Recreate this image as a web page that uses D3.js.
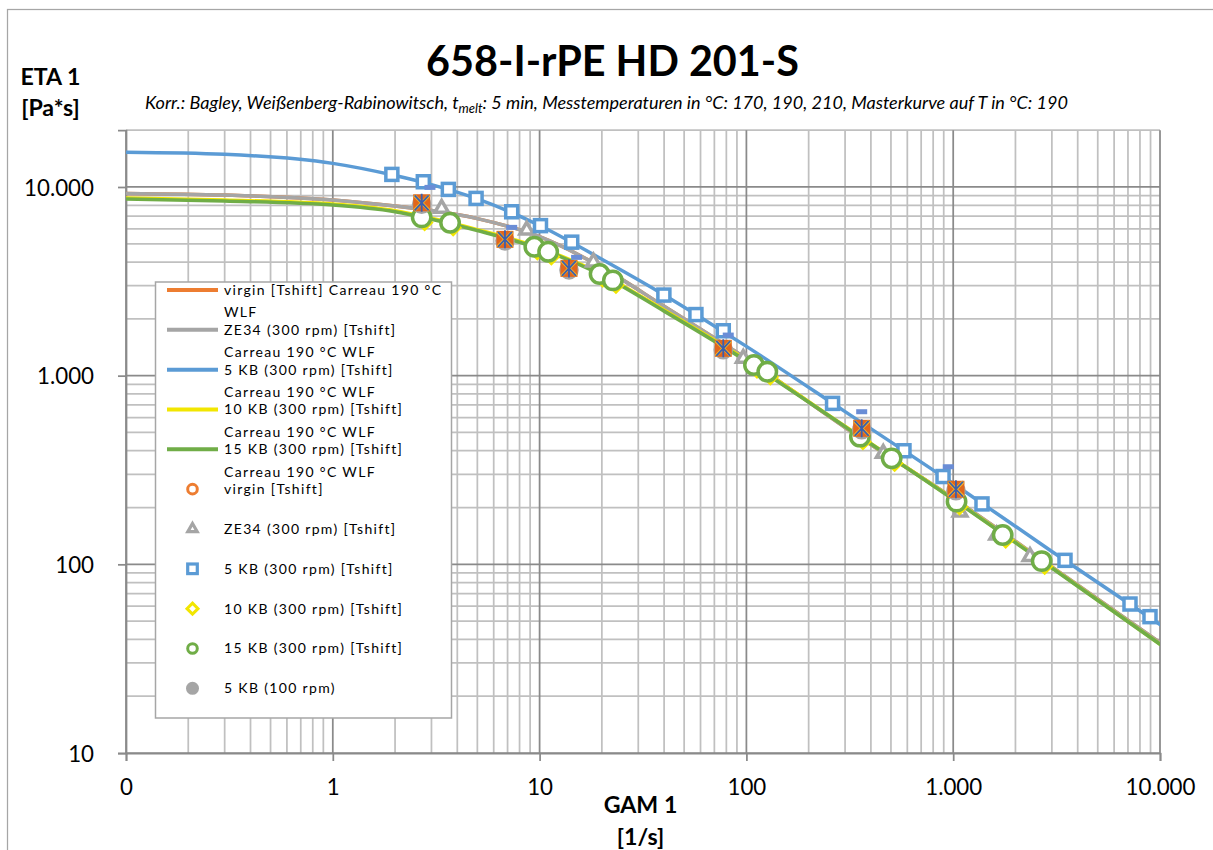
<!DOCTYPE html>
<html>
<head>
<meta charset="utf-8">
<script src="https://cdn.jsdelivr.net/npm/d3@7"></script>
<style>
  body { margin: 0; background: #fff; }
  svg { display: block; font-family: Lato, "Open Sans", sans-serif; }
</style>
</head>
<body>
<svg id="chart" width="1213" height="850"></svg>
<script>
// ---- Carreau/WLF fit curves (shear rate in 1/s, viscosity in Pa*s) ----
const gamFit = [0.1, 0.3, 1, 2, 3, 5, 10, 20, 40, 100, 300, 1000, 3000, 10000];
const etaFitVirgin = [9250, 9057, 8530, 7920, 7500, 6800, 5450, 3750, 2330, 1230, 531, 224, 97, 38.5];
const etaFitZE34   = [9250, 9057, 8530, 7920, 7500, 6800, 5450, 3750, 2330, 1230, 531, 224, 97, 38.5];
const etaFit5KB    = [15260, 14890, 13340, 11500, 10300, 8650, 6250, 4140, 2680, 1430, 645, 268, 117, 48];
const etaFit10KB   = [8730, 8520, 8115, 7480, 6830, 5945, 4760, 3450, 2225, 1210, 539, 222, 96, 37.8];
const etaFit15KB   = [8630, 8420, 8020, 7390, 6750, 5876, 4705, 3410, 2198, 1195, 537, 221, 95.6, 37.7];

// ---- measured points, shifted to 190 °C ----
const gamZE34 = [3.36, 8.66, 18.2, 96.6, 459, 1079, 1623, 2351];
const etaZE34 = [7700, 5909, 4000, 1235, 387, 189, 143, 110];

const gam5KB = [1.93, 2.74, 3.62, 4.93, 7.33, 10.1, 14.3, 39.9, 57.0, 77.3, 261, 578, 893, 1378, 3472, 7160, 8946];
const eta5KB = [11660, 10660, 9710, 8700, 7390, 6240, 5100, 2674, 2108, 1730, 713, 400, 292, 209, 105, 61.6, 52.8];

const gam10KB = [2.78, 3.82, 9.75, 11.4, 20.2, 23.4, 112.5, 130.5, 366, 521, 1073, 1794, 2769];
const eta10KB = [6490, 6080, 4540, 4270, 3250, 3010, 1070, 987, 447, 343, 202, 134.5, 97.8];

const gam15KB = [2.69, 3.69, 9.43, 11.0, 19.5, 22.6, 108.8, 126.2, 354, 504, 1038, 1735, 2678];
const eta15KB = [6902, 6460, 4822, 4535, 3455, 3199, 1138, 1049, 475, 364.5, 215, 143, 104];

// virgin and 100 rpm runs share the same shear rates
const gamVirgin = [2.69, 6.80, 13.87, 77.3, 361, 1031];
const etaVirgin = [8247, 5277, 3703, 1396, 526, 250];
const gam5KB100 = [2.69, 6.80, 13.87, 77.3, 361, 1031];
const eta5KB100 = [8247, 5277, 3703, 1396, 526, 250];
const gam5KB100T = [2.95, 7.33, 15.1, 81.7, 361, 947];
const eta5KB100T = [9952, 6108, 4236, 1641, 644, 329];

// ---- axes ----
const xTicks = [0.1, 1, 10, 100, 1000, 10000];
const yTicks = [10, 100, 1000, 10000];

const titleText = "658-I-rPE HD 201-S";
const xTitle = ["GAM 1", "[1/s]"];
const yTitle = ["ETA 1", "[Pa*s]"];

const legendEntries = [
  { lines: ["virgin [Tshift] Carreau 190 °C"], kind: "line", color: "#ed7d31" },
  { lines: ["WLF", "ZE34 (300 rpm) [Tshift]"], kind: "line", color: "#a5a5a5" },
  { lines: ["Carreau 190 °C WLF", "5 KB (300 rpm) [Tshift]"], kind: "line", color: "#5b9bd5" },
  { lines: ["Carreau 190 °C WLF", "10 KB (300 rpm) [Tshift]"], kind: "line", color: "#f2e600" },
  { lines: ["Carreau 190 °C WLF", "15 KB (300 rpm) [Tshift]"], kind: "line", color: "#70ad47" },
  { lines: ["Carreau 190 °C WLF", "virgin [Tshift]"], kind: "circle", color: "#ed7d31" },
  { lines: ["ZE34 (300 rpm) [Tshift]"], kind: "triangle", color: "#a5a5a5" },
  { lines: ["5 KB (300 rpm) [Tshift]"], kind: "square", color: "#5b9bd5" },
  { lines: ["10 KB (300 rpm) [Tshift]"], kind: "diamond", color: "#f2e600" },
  { lines: ["15 KB (300 rpm) [Tshift]"], kind: "circle", color: "#70ad47" },
  { lines: ["5 KB (100 rpm)"], kind: "dot", color: "#a5a5a5" }
];

const deFormat = d3.formatLocale({ decimal: ",", thousands: ".", grouping: [3], currency: ["", " €"] }).format(",.0f");

const svg = d3.select("#chart");

const x = d3.scaleLog().domain([0.1, 10000]).range([126, 1160]);
const y = d3.scaleLog().domain([10, 20000]).range([753, 753 - Math.log10(2000) * 188.67]);
const [x0, x1] = x.range();
const [y0, y1] = y.range();

// outer chart frame
svg.append("rect").attr("x", 7.5).attr("y", 9.5).attr("width", 1215).attr("height", 860)
  .attr("fill", "#fff").attr("stroke", "#a6a6a6").attr("stroke-width", 1.25);

// ---- gridlines ----
const xMinor = [], yMinor = [];
[0.1, 1, 10, 100, 1000].forEach(d => { for (let k = 2; k <= 9; k++) xMinor.push(d * k); });
[10, 100, 1000, 10000].forEach(d => { for (let k = 2; k <= 9; k++) { if (d * k <= 20000) yMinor.push(d * k); } });

const grid = svg.append("g");
grid.selectAll(".vx").data(xMinor).join("line")
  .attr("x1", d => x(d)).attr("x2", d => x(d)).attr("y1", y1).attr("y2", y0)
  .attr("stroke", "#c0c0c0").attr("stroke-width", 1.75);
grid.selectAll(".hy").data(yMinor).join("line")
  .attr("x1", x0).attr("x2", x1).attr("y1", d => y(d)).attr("y2", d => y(d))
  .attr("stroke", "#c0c0c0").attr("stroke-width", 1.75);
grid.selectAll(".vX").data(xTicks).join("line")
  .attr("x1", d => x(d)).attr("x2", d => x(d)).attr("y1", y1).attr("y2", y0)
  .attr("stroke", "#8a8a8a").attr("stroke-width", 1.75);
grid.selectAll(".hY").data(yTicks).join("line")
  .attr("x1", x0).attr("x2", x1).attr("y1", d => y(d)).attr("y2", d => y(d))
  .attr("stroke", "#8a8a8a").attr("stroke-width", 1.75);

// ---- axes with tick marks ----
const xAxis = svg.append("g").attr("transform", `translate(0,${y0})`)
  .call(d3.axisBottom(x).tickValues(xTicks).tickSize(8).tickPadding(18).tickFormat(deFormat));
const yAxis = svg.append("g").attr("transform", `translate(${x0},0)`)
  .call(d3.axisLeft(y).tickValues(yTicks).tickSize(8).tickPadding(24).tickFormat(deFormat));
[xAxis, yAxis].forEach(a => {
  a.select(".domain").attr("stroke", "#8a8a8a").attr("stroke-width", 1.75);
  a.selectAll(".tick line").attr("stroke", "#8a8a8a").attr("stroke-width", 1.75);
  a.selectAll(".tick text").attr("fill", "#000").attr("font-family", "Lato, 'Open Sans', sans-serif");
});

// ---- fit lines ----
const lineGen = d3.line().x(d => x(d[0])).y(d => y(d[1])).curve(d3.curveMonotoneX);
const fits = [
  [etaFitVirgin, "#ed7d31"],
  [etaFitZE34, "#a5a5a5"],
  [etaFit5KB, "#5b9bd5"],
  [etaFit10KB, "#f2e600"],
  [etaFit15KB, "#70ad47"]
];
svg.append("clipPath").attr("id", "plotclip").append("rect")
  .attr("x", x0).attr("y", y1).attr("width", x1 - x0).attr("height", y0 - y1);
const fitG = svg.append("g").attr("clip-path", "url(#plotclip)");
fits.forEach(([eta, col]) => {
  fitG.append("path").datum(gamFit.map((g, i) => [g, eta[i]]))
    .attr("d", lineGen).attr("fill", "none").attr("stroke", col)
    .attr("stroke-width", 3.5).attr("stroke-linejoin", "round").attr("stroke-linecap", "round");
});

// ---- markers ----
const zip = (a, b) => a.map((v, i) => [v, b[i]]);
const mk = svg.append("g");

const triPath = d3.symbol(d3.symbolTriangle, 80)();
mk.selectAll(".tri").data(zip(gamZE34, etaZE34)).join("path")
  .attr("d", triPath).attr("transform", d => `translate(${x(d[0])},${y(d[1])})`)
  .attr("fill", "#fff").attr("stroke", "#a5a5a5").attr("stroke-width", 3.5).attr("stroke-linejoin", "miter");

mk.selectAll(".sq").data(zip(gam5KB, eta5KB)).join("rect")
  .attr("x", d => x(d[0]) - 6).attr("y", d => y(d[1]) - 6).attr("width", 12).attr("height", 12)
  .attr("fill", "#fff").attr("stroke", "#5b9bd5").attr("stroke-width", 3.5);

mk.selectAll(".dia").data(zip(gam10KB, eta10KB)).join("path")
  .attr("d", "M0,-6.5L6.5,0L0,6.5L-6.5,0Z").attr("transform", d => `translate(${x(d[0])},${y(d[1])})`)
  .attr("fill", "#fff").attr("stroke", "#f2e600").attr("stroke-width", 3.5);

mk.selectAll(".cir").data(zip(gam15KB, eta15KB)).join("circle")
  .attr("cx", d => x(d[0])).attr("cy", d => y(d[1])).attr("r", 9.2)
  .attr("fill", "#fff").attr("stroke", "#70ad47").attr("stroke-width", 3.5);

mk.selectAll(".dot").data(zip(gam5KB100, eta5KB100)).join("circle")
  .attr("cx", d => x(d[0])).attr("cy", d => y(d[1]) + 1.5).attr("r", 9.8)
  .attr("fill", "#a5a5a5");

// virgin points: filled square overlaid with cross/asterisk markers of the 100 rpm runs
const vg = mk.selectAll(".vir").data(zip(gamVirgin, etaVirgin)).join("g")
  .attr("transform", d => `translate(${x(d[0])},${y(d[1])})`);
vg.append("rect").attr("x", -8.5).attr("y", -8.5).attr("width", 17).attr("height", 17).attr("fill", "#e1661c");
vg.append("path").attr("d", "M-7.5,-7.5L7.5,7.5M7.5,-7.5L-7.5,7.5").attr("stroke", "#f1b42a").attr("stroke-width", 3.2);
vg.append("path").attr("d", "M-7,-7.5L7,7.5M7,-7.5L-7,7.5M0,-9L0,9").attr("stroke", "#3b5fae").attr("stroke-width", 1.8);

mk.selectAll(".dash").data(zip(gam5KB100T, eta5KB100T)).join("rect")
  .attr("x", d => x(d[0]) - 5.5).attr("y", d => y(d[1]) - 2.5).attr("width", 11).attr("height", 5)
  .attr("fill", "#6a8dd6");

// ---- legend ----
const lg = svg.append("g");
lg.append("rect").attr("x", 155.5).attr("y", 282).attr("width", 296).attr("height", 436)
  .attr("fill", "#fff").attr("stroke", "#a6a6a6").attr("stroke-width", 1.5);

const legendFont = 14;
const legendText = [];
legendEntries.forEach((e, i) => {
  const sy = 290 + i * 39.83;
  const n = e.lines.length;
  e.lines.forEach((t, j) => {
    legendText.push(lg.append("text").attr("x", 224).attr("y", sy - 17.3 * (n - 1 - j))
      .attr("dy", "0.35em").attr("font-size", legendFont).attr("fill", "#000").text(t));
  });
  const cx = 192.5;
  if (e.kind === "line") {
    lg.append("line").attr("x1", 167).attr("x2", 218).attr("y1", sy).attr("y2", sy)
      .attr("stroke", e.color).attr("stroke-width", 4);
  } else if (e.kind === "circle") {
    lg.append("circle").attr("cx", cx).attr("cy", sy).attr("r", 4.8)
      .attr("fill", "#fff").attr("stroke", e.color).attr("stroke-width", 3);
  } else if (e.kind === "triangle") {
    lg.append("path").attr("d", d3.symbol(d3.symbolTriangle, 38)()).attr("transform", `translate(${cx},${sy})`)
      .attr("fill", "#fff").attr("stroke", e.color).attr("stroke-width", 3.2);
  } else if (e.kind === "square") {
    lg.append("rect").attr("x", cx - 4.8).attr("y", sy - 4.8).attr("width", 9.6).attr("height", 9.6)
      .attr("fill", "#fff").attr("stroke", e.color).attr("stroke-width", 3.2);
  } else if (e.kind === "diamond") {
    lg.append("path").attr("d", "M0,-5.5L5.5,0L0,5.5L-5.5,0Z").attr("transform", `translate(${cx},${sy})`)
      .attr("fill", "#fff").attr("stroke", e.color).attr("stroke-width", 3);
  } else if (e.kind === "dot") {
    lg.append("circle").attr("cx", cx).attr("cy", sy).attr("r", 6.5).attr("fill", e.color);
  }
});

// ---- titles ----
const title = svg.append("text").attr("x", 612.5).attr("y", 76).attr("text-anchor", "middle")
  .attr("font-size", 40).attr("font-weight", 700).attr("fill", "#000").text(titleText);

const sub = svg.append("text").attr("x", 606.5).attr("y", 109).attr("text-anchor", "middle")
  .attr("font-size", 13).attr("font-style", "italic").attr("fill", "#000");
sub.append("tspan").text("Korr.: Bagley, Weißenberg-Rabinowitsch, t");
sub.append("tspan").attr("dy", 4).style("font-size", "0.72em").text("melt");
sub.append("tspan").attr("dy", -4).text(": 5 min, Messtemperaturen in °C: 170, 190, 210, Masterkurve auf T in °C: 190");

const yT1 = svg.append("text").attr("x", 50.5).attr("y", 85).attr("text-anchor", "middle")
  .attr("font-size", 22).attr("font-weight", 700).attr("fill", "#000").text(yTitle[0]);
const yT2 = svg.append("text").attr("x", 50.5).attr("y", 116).attr("text-anchor", "middle")
  .attr("font-size", 22).attr("font-weight", 700).attr("fill", "#000").text(yTitle[1]);
const xT1 = svg.append("text").attr("x", 640.5).attr("y", 813).attr("text-anchor", "middle")
  .attr("font-size", 22).attr("font-weight", 700).attr("fill", "#000").text(xTitle[0]);
const xT2 = svg.append("text").attr("x", 640.5).attr("y", 845).attr("text-anchor", "middle")
  .attr("font-size", 22).attr("font-weight", 700).attr("fill", "#000").text(xTitle[1]);

// ---- size fonts to the intended text widths ----
function sizeFor(sel, target) {
  const w = sel.node().getComputedTextLength();
  return parseFloat(sel.attr("font-size")) * target / w;
}
title.attr("font-size", sizeFor(title, 373));
sub.attr("font-size", sizeFor(sub, 923));
const boldSize = sizeFor(yT1, 60);
[yT1, yT2, xT1, xT2].forEach(t => t.attr("font-size", boldSize));

// legend keeps a compact font; letter spacing widens the lines to the box
const firstLine = legendText[0];
const lw = firstLine.node().getComputedTextLength();
const nChars = firstLine.text().length;
const spacing = (218 - lw) / nChars;
legendText.forEach(t => t.attr("letter-spacing", spacing.toFixed(3)));

const tickTexts = svg.selectAll(".tick text");
tickTexts.attr("font-size", 20);
const ref = yAxis.selectAll(".tick text").filter(d => d === 10000);
const tSize = sizeFor(ref, 70);
tickTexts.attr("font-size", tSize);
yAxis.selectAll(".tick text").attr("dy", "0.36em");
xAxis.selectAll(".tick text").attr("dy", "0.71em");
</script>
</body>
</html>
